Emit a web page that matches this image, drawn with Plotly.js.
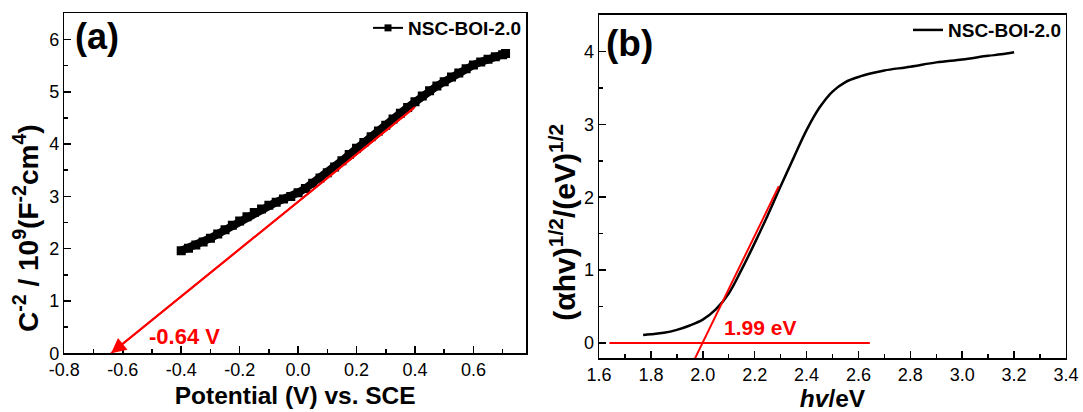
<!DOCTYPE html>
<html>
<head>
<meta charset="utf-8">
<script src="https://cdn.plot.ly/plotly-3.0.1.min.js"></script>
<style>html,body{margin:0;padding:0;background:#fff;}#chart{width:1083px;height:412px;}</style>
</head>
<body>
<div id="chart"></div>
<script>
// ---- Panel (a): Mott-Schottky data ----
const potential = [-0.400,-0.375,-0.350,-0.325,-0.300,-0.275,-0.250,-0.225,-0.200,-0.175,-0.150,-0.125,-0.100,-0.075,-0.050,-0.025,0.000,0.025,0.050,0.075,0.100,0.125,0.150,0.175,0.200,0.225,0.250,0.275,0.300,0.325,0.350,0.375,0.400,0.425,0.450,0.475,0.500,0.525,0.550,0.575,0.600,0.625,0.650,0.675,0.700,0.710];
const invC2 = [1.96,2.01,2.07,2.13,2.20,2.28,2.36,2.45,2.53,2.61,2.69,2.76,2.83,2.89,2.95,3.00,3.07,3.15,3.25,3.35,3.45,3.56,3.68,3.80,3.92,4.03,4.14,4.25,4.36,4.48,4.59,4.70,4.81,4.92,5.02,5.11,5.19,5.28,5.36,5.44,5.51,5.57,5.62,5.67,5.71,5.73];
const fitA_x = [0.40, -0.64];
const fitA_y = [4.71, 0];

// ---- Panel (b): Tauc plot data ----
const photonEnergy = [1.77,1.80,1.85,1.90,1.95,2.00,2.05,2.10,2.15,2.20,2.25,2.30,2.35,2.40,2.45,2.50,2.55,2.60,2.65,2.70,2.80,2.90,3.00,3.10,3.15,3.20];
const tauc = [0.11,0.12,0.14,0.18,0.24,0.32,0.46,0.68,1.01,1.37,1.75,2.15,2.54,2.92,3.23,3.45,3.58,3.65,3.70,3.74,3.79,3.85,3.89,3.94,3.96,3.99];
const fitB_x = [1.97, 2.293];
const fitB_y = [-0.21, 2.15];
const baseB_x = [1.64, 2.644];
const baseB_y = [0, 0];

// ---- tick labels ----
const xTickValsA = [-0.8,-0.6,-0.4,-0.2,0.0,0.2,0.4,0.6];
const xTickTextA = ['-0.8','-0.6','-0.4','-0.2','0.0','0.2','0.4','0.6'];
const yTickValsA = [0,1,2,3,4,5,6];
const xTickValsB = [1.6,1.8,2.0,2.2,2.4,2.6,2.8,3.0,3.2,3.4];
const xTickTextB = ['1.6','1.8','2.0','2.2','2.4','2.6','2.8','3.0','3.2','3.4'];
const yTickValsB = [0,1,2,3,4];

const seriesName = 'NSC-BOI-2.0';
const FONT = 'Arial, "Liberation Sans", sans-serif';
const RED = '#ff0000';

const traces = [
  // dense square-marker band (panel a)
  {x: potential, y: invC2, type: 'scatter', mode: 'lines+markers', showlegend: false,
   line: {color: '#000', width: 8}, marker: {symbol: 'square', size: 9, color: '#000'},
   xaxis: 'x', yaxis: 'y', hoverinfo: 'skip'},
  // legend entry for panel a (no data points)
  {x: [null], y: [null], type: 'scatter', mode: 'lines+markers', name: seriesName,
   line: {color: '#000', width: 2}, marker: {symbol: 'square', size: 7, color: '#000'},
   xaxis: 'x', yaxis: 'y', legend: 'legend'},
  {x: fitA_x, y: fitA_y, type: 'scatter', mode: 'lines', showlegend: false,
   line: {color: RED, width: 2}, xaxis: 'x', yaxis: 'y', hoverinfo: 'skip'},
  {x: photonEnergy, y: tauc, type: 'scatter', mode: 'lines', name: seriesName,
   line: {color: '#000', width: 2.5, shape: 'spline'}, xaxis: 'x2', yaxis: 'y2', legend: 'legend2'},
  {x: fitB_x, y: fitB_y, type: 'scatter', mode: 'lines', showlegend: false,
   line: {color: RED, width: 2}, xaxis: 'x2', yaxis: 'y2', hoverinfo: 'skip'},
  {x: baseB_x, y: baseB_y, type: 'scatter', mode: 'lines', showlegend: false,
   line: {color: RED, width: 2}, xaxis: 'x2', yaxis: 'y2', hoverinfo: 'skip'}
];

const axisCommon = {
  showline: true, linecolor: '#000', linewidth: 1.5, mirror: true,
  ticks: 'inside', ticklen: 7, tickwidth: 1.5, tickcolor: '#000',
  ticklabelposition: 'outside', automargin: false,
  showgrid: false, zeroline: false,
  tickfont: {family: FONT, size: 18, color: '#000'}
};
const minorCommon = {ticks: 'inside', ticklen: 4, tickwidth: 1.5, tickcolor: '#000', showgrid: false};

const layout = {
  width: 1083, height: 412,
  margin: {l: 0, r: 0, t: 0, b: 0},
  paper_bgcolor: '#fff', plot_bgcolor: '#fff',
  font: {family: FONT, color: '#000'},
  xaxis: Object.assign({}, axisCommon, {
    domain: [0.0594, 0.4857], range: [-0.8, 0.78], anchor: 'y',
    tickmode: 'array', tickvals: xTickValsA, ticktext: xTickTextA,
    minor: Object.assign({}, minorCommon, {tick0: -0.8, dtick: 0.1}),
    title: {text: 'Potential (V) vs. SCE', font: {family: FONT, size: 24.5, weight: 'bold'}, standoff: 7}
  }),
  yaxis: Object.assign({}, axisCommon, {
    domain: [0.1425, 0.9677], range: [0, 6.5], anchor: 'x',
    tickmode: 'array', tickvals: yTickValsA,
    minor: Object.assign({}, minorCommon, {tick0: 0, dtick: 0.5})
  }),
  xaxis2: Object.assign({}, axisCommon, {
    domain: [0.5531, 0.9843], range: [1.6, 3.4], anchor: 'y2',
    tickmode: 'array', tickvals: xTickValsB, ticktext: xTickTextB,
    minor: Object.assign({}, minorCommon, {tick0: 1.6, dtick: 0.1}),
    title: {text: '<i>hv</i>/eV', font: {family: FONT, size: 24.5, weight: 'bold'}, standoff: 6}
  }),
  yaxis2: Object.assign({}, axisCommon, {
    domain: [0.1303, 0.9636], range: [-0.21, 4.5], anchor: 'x2',
    tickmode: 'array', tickvals: yTickValsB,
    minor: Object.assign({}, minorCommon, {tick0: 0, dtick: 0.5})
  }),
  legend: {x: 0.4857, xanchor: 'right', y: 0.932, yanchor: 'middle', bgcolor: 'rgba(0,0,0,0)',
           font: {family: FONT, size: 19, weight: 'bold', color: '#000'}},
  legend2: {x: 0.9843, xanchor: 'right', y: 0.927, yanchor: 'middle', bgcolor: 'rgba(0,0,0,0)',
           font: {family: FONT, size: 19, weight: 'bold', color: '#000'}},
  annotations: [
    {xref: 'x', yref: 'y', x: fitA_x[1], y: fitA_y[1], axref: 'x', ayref: 'y', ax: fitA_x[0], ay: fitA_y[0],
     text: '', showarrow: true, arrowhead: 2, arrowsize: 1.5, arrowwidth: 2, arrowcolor: RED, standoff: 0},
    {xref: 'x', yref: 'y', x: -0.39, y: 0.33, xanchor: 'center', yanchor: 'middle', text: '-0.64 V', showarrow: false,
     font: {family: FONT, size: 22, weight: 'bold', color: RED}},
    {xref: 'x2', yref: 'y2', x: 2.221, y: 0.21, xanchor: 'center', yanchor: 'middle', text: '1.99 eV', showarrow: false,
     font: {family: FONT, size: 21, weight: 'bold', color: RED}},
    {xref: 'paper', yref: 'paper', x: 0.0896, y: 0.912, xanchor: 'center', yanchor: 'middle', text: '(a)', showarrow: false,
     font: {family: FONT, size: 36, weight: 'bold', color: '#000'}},
    {xref: 'paper', yref: 'paper', x: 0.5817, y: 0.8956, xanchor: 'center', yanchor: 'middle', text: '(b)', showarrow: false,
     font: {family: FONT, size: 37, weight: 'bold', color: '#000'}},
    {xref: 'paper', yref: 'paper', x: 0.024, y: 0.4466, xanchor: 'center', yanchor: 'middle', textangle: -90, showarrow: false,
     text: 'C<sup>-2</sup> / 10<sup>9</sup>(F<sup>-2</sup>cm<sup>4</sup>)',
     font: {family: FONT, size: 28, weight: 'bold', color: '#000'}},
    {xref: 'paper', yref: 'paper', x: 0.5195, y: 0.461, xanchor: 'center', yanchor: 'middle', textangle: -90, showarrow: false,
     text: '(αhv)<sup>1/2</sup>/(eV)<sup>1/2</sup>',
     font: {family: FONT, size: 30, weight: 'bold', color: '#000'}}
  ]
};

Plotly.newPlot('chart', traces, layout, {displayModeBar: false, staticPlot: true});
</script>
</body>
</html>
